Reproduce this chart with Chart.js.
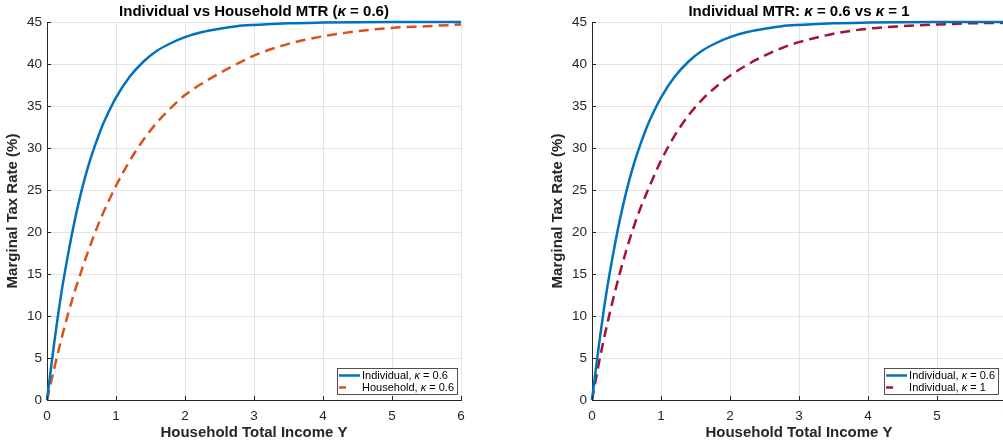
<!DOCTYPE html>
<html>
<head>
<meta charset="utf-8">
<script src="https://cdn.jsdelivr.net/npm/chart.js@4.4.1/dist/chart.umd.min.js"></script>
<style>
  html, body { margin: 0; padding: 0; background: #fff; overflow: hidden; width: 1003px; height: 444px; }
  .panel { position: absolute; top: 0; width: 480px; height: 444px; }
</style>
</head>
<body>
<div class="panel" style="left:0"><canvas id="leftChart" width="480" height="444"></canvas></div>
<div class="panel" style="left:545px"><canvas id="rightChart" width="480" height="444"></canvas></div>
<script>
// values
const incomeY = [0, 0.05, 0.1, 0.2, 0.3, 0.4, 0.5, 0.6, 0.7, 0.8, 0.9, 1.0, 1.2, 1.4, 1.6, 1.8, 2.0, 2.25, 2.5, 2.75, 3.0, 3.5, 4.0, 4.5, 5.0, 5.5, 6.0];
const individual06 = [0, 3.3, 6.5, 12.3, 17.1, 21.3, 24.9, 27.9, 30.4, 32.6, 34.4, 36.0, 38.5, 40.3, 41.6, 42.5, 43.2, 43.8, 44.2, 44.5, 44.65, 44.85, 44.93, 44.97, 44.99, 45.0, 45.0];
const household06 = [0, 1.8, 3.6, 7.0, 10.1, 12.9, 15.4, 17.8, 20.0, 22.0, 23.8, 25.5, 28.5, 31.0, 33.1, 34.8, 36.3, 37.7, 38.9, 40.0, 41.0, 42.4, 43.3, 43.9, 44.3, 44.5, 44.7];
const individual1 = [0, 2.2, 4.4, 8.3, 11.8, 15.0, 17.9, 20.5, 22.8, 24.8, 26.7, 28.5, 31.5, 33.9, 35.8, 37.3, 38.6, 39.9, 41.0, 41.9, 42.6, 43.6, 44.2, 44.5, 44.7, 44.85, 44.9];
const xTicks = [0, 1, 2, 3, 4, 5, 6];
const yTicks = [0, 5, 10, 15, 20, 25, 30, 35, 40, 45];

const FONT = '"Liberation Sans", Arial, Helvetica, sans-serif';
const INK = '#262626';
const BLUE = '#0072BD';
const ORANGE = '#D95319';
const RED = '#A2142F';

function points(ys) {
    return incomeY.map((x, i) => ({ x: x, y: ys[i] }));
}

// draw text where every κ is italic
function mixedText(ctx, text, x, y, size, weight, align) {
    const parts = text.split(/(κ)/).filter(p => p.length);
    const fontOf = p => (p === 'κ' ? 'italic ' : '') + weight + ' ' + size + 'px ' + FONT;
    let total = 0;
    parts.forEach(p => { ctx.font = fontOf(p); total += ctx.measureText(p).width; });
    let cx = align === 'center' ? x - total / 2 : x;
    parts.forEach(p => {
        ctx.font = fontOf(p);
        ctx.fillText(p, cx, y);
        cx += ctx.measureText(p).width;
    });
    return total;
}

const extras = {
    id: 'extras',
    afterDatasetsDraw(chart, args, opts) {
        const ctx = chart.ctx;
        const a = chart.chartArea;
        const xs = chart.scales.x, ys = chart.scales.y;
        ctx.save();
        // inward tick marks
        ctx.strokeStyle = INK;
        ctx.lineWidth = 1;
        ctx.beginPath();
        xTicks.forEach(v => {
            const px = Math.round(xs.getPixelForValue(v)) + 0.5;
            ctx.moveTo(px, a.bottom);
            ctx.lineTo(px, a.bottom - 4);
        });
        yTicks.forEach(v => {
            const py = Math.round(ys.getPixelForValue(v)) + 0.5;
            ctx.moveTo(a.left, py);
            ctx.lineTo(a.left + 4, py);
        });
        ctx.stroke();

        // title
        ctx.fillStyle = '#000';
        ctx.textBaseline = 'alphabetic';
        mixedText(ctx, opts.title, (a.left + a.right) / 2, 16, 15, 'bold', 'center');

        // legend box
        ctx.textBaseline = 'middle';
        const labels = chart.data.datasets.map(d => d.label);
        let textW = 0;
        labels.forEach(l => {
            const parts = l.split(/(κ)/);
            let w = 0;
            parts.forEach(p => {
                ctx.font = (p === 'κ' ? 'italic ' : '') + '11px ' + FONT;
                w += ctx.measureText(p).width;
            });
            textW = Math.max(textW, w);
        });
        const right = a.right - opts.legendGap;
        const bottom = a.bottom - 6;
        const top = bottom - 26;
        const left = right - textW - 28;
        ctx.fillStyle = '#fff';
        ctx.fillRect(left, top, right - left, bottom - top);
        ctx.strokeStyle = INK;
        ctx.lineWidth = 0.8;
        ctx.strokeRect(left + 0.5, top + 0.5, right - left, bottom - top);
        chart.data.datasets.forEach((ds, i) => {
            const cy = top + 7.5 + i * 12;
            ctx.strokeStyle = ds.borderColor;
            ctx.lineWidth = 2.5;
            ctx.setLineDash(ds.borderDash && ds.borderDash.length ? [7, 20] : []);
            ctx.beginPath();
            ctx.moveTo(left + 2, cy);
            ctx.lineTo(left + 23, cy);
            ctx.stroke();
            ctx.setLineDash([]);
            ctx.fillStyle = '#000';
            mixedText(ctx, ds.label, left + 25, cy, 11, 'normal', 'left');
        });
        ctx.restore();
    }
};

function makeChart(id, datasets, title, legendGap) {
    const ctx = document.getElementById(id).getContext('2d');
    return new Chart(ctx, {
        type: 'line',
        data: { datasets: datasets },
        plugins: [extras],
        options: {
            responsive: false,
            animation: false,
            layout: { padding: { top: 22, right: 19, left: 0, bottom: 0 } },
            elements: { point: { radius: 0 }, line: { cubicInterpolationMode: 'monotone' } },
            plugins: {
                legend: { display: false },
                tooltip: { enabled: false },
                extras: { title: title, legendGap: legendGap }
            },
            scales: {
                x: {
                    type: 'linear', min: 0, max: 6,
                    afterBuildTicks: s => { s.ticks = xTicks.map(v => ({ value: v })); },
                    afterFit: s => { s.height = 44; },
                    grid: { color: '#e4e4e4', drawTicks: false },
                    border: { color: INK, width: 1 },
                    ticks: { padding: 8, color: INK, maxRotation: 0, font: { family: FONT, size: 13.5 } },
                    title: { display: true, text: 'Household Total Income Y', color: INK,
                             font: { family: FONT, size: 15, weight: 'bold' }, padding: { top: 0, bottom: 2 } }
                },
                y: {
                    type: 'linear', min: 0, max: 45,
                    afterBuildTicks: s => { s.ticks = yTicks.map(v => ({ value: v })); },
                    afterFit: s => { s.width = 47; },
                    grid: { color: '#e4e4e4', drawTicks: false },
                    border: { color: INK, width: 1 },
                    ticks: { padding: 5, color: INK, font: { family: FONT, size: 13.5 } },
                    title: { display: true, text: 'Marginal Tax Rate (%)', color: INK,
                             font: { family: FONT, size: 15, weight: 'bold' }, padding: { top: 4, bottom: 0 } }
                }
            }
        }
    });
}

makeChart('leftChart', [
    { label: 'Individual, κ = 0.6', data: points(individual06), borderColor: BLUE, borderWidth: 2.5, clip: 4 },
    { label: 'Household, κ = 0.6', data: points(household06), borderColor: ORANGE, borderWidth: 2.5, borderDash: [10, 6], clip: 4 }
], 'Individual vs Household MTR (κ = 0.6)', 4);

makeChart('rightChart', [
    { label: 'Individual, κ = 0.6', data: points(individual06), borderColor: BLUE, borderWidth: 2.5, clip: 4 },
    { label: 'Individual, κ = 1', data: points(individual1), borderColor: RED, borderWidth: 2.5, borderDash: [10, 6], clip: 4 }
], 'Individual MTR: κ = 0.6 vs κ = 1', 8);
</script>
</body>
</html>
